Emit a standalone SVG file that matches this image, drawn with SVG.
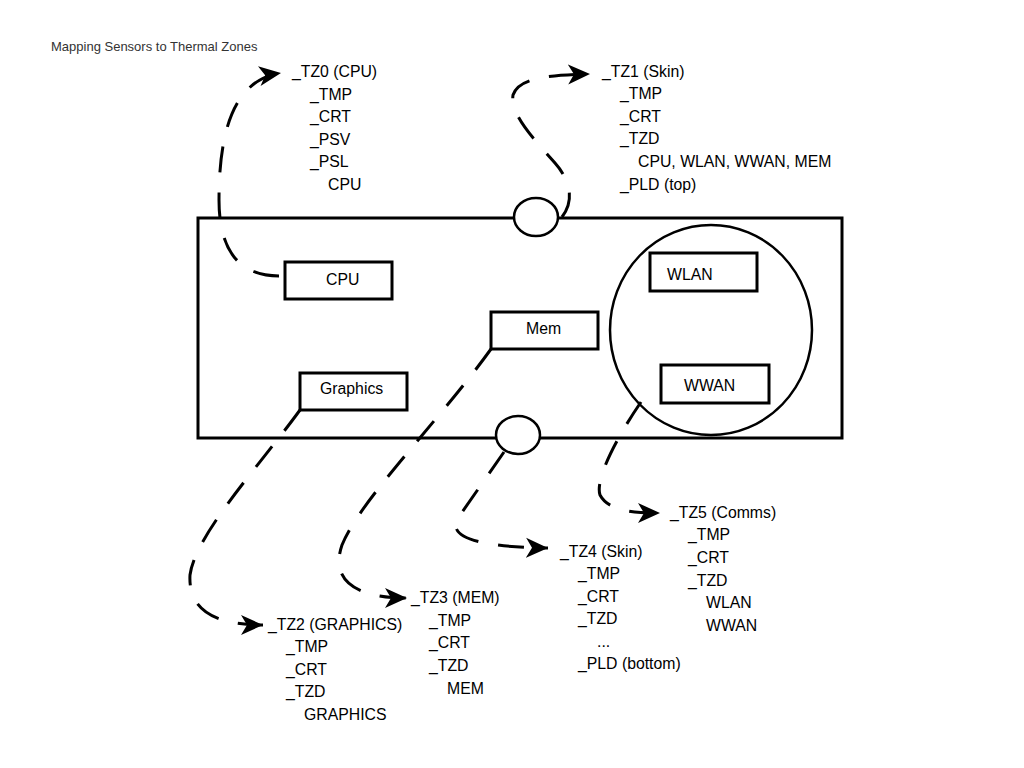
<svg xmlns="http://www.w3.org/2000/svg" width="1024" height="768" viewBox="0 0 1024 768">
<style>
text{font-family:"Liberation Sans",Arial,sans-serif;font-size:15.8px;fill:#000}
.title{font-size:13px;fill:#333}
.box{fill:#fff;stroke:#000;stroke-width:3}
.ring{fill:#fff;stroke:#000;stroke-width:2.5}
.conn{fill:none;stroke:#000;stroke-width:3;stroke-dasharray:26 20;marker-end:url(#arr)}
</style>
<defs>
<marker id="arr" markerUnits="userSpaceOnUse" markerWidth="24" markerHeight="22" refX="22" refY="10" orient="auto" viewBox="0 0 24 20">
<path d="M0,0 L22,10 L0,20 L6,10 z" fill="#000"/>
</marker>
</defs>
<rect width="1024" height="768" fill="#fff"/>
<text class="title" x="51" y="51">Mapping Sensors to Thermal Zones</text>
<g id="board">
<rect x="198" y="218" width="644" height="220" fill="none" stroke="#000" stroke-width="3"/>
</g>
<g id="comms-zone"><ellipse cx="711" cy="330" rx="101" ry="105" fill="none" stroke="#000" stroke-width="2.5"/></g>
<g id="top-sensor"><ellipse class="ring" cx="536" cy="217" rx="22" ry="19"/></g>
<g id="bottom-sensor"><ellipse class="ring" cx="518" cy="435" rx="22" ry="19"/></g>
<g id="cpu"><rect class="box" x="285" y="262" width="107" height="37"/><text x="326" y="285">CPU</text></g>
<g id="mem"><rect class="box" x="491" y="312" width="107" height="37"/><text x="526" y="334">Mem</text></g>
<g id="graphics"><rect class="box" x="300" y="373" width="107" height="37"/><text x="320" y="394">Graphics</text></g>
<g id="wlan"><rect class="box" x="650" y="253" width="107" height="38"/><text x="667" y="280">WLAN</text></g>
<g id="wwan"><rect class="box" x="661" y="365" width="108" height="38"/><text x="684" y="391">WWAN</text></g>
<g id="connectors">
<path class="conn" d="M279,276 C235,276 219,245 219,200 C219,140 230,80 281,73"/>
<path class="conn" d="M562,217 C575,200 570,180 555,163 C535,140 510,115 513,95 C518,80 540,75 590,74"/>
<path class="conn" d="M300,410 C260,465 195,535 190,575 C188,610 215,625 263,625"/>
<path class="conn" d="M491,349 C440,420 360,500 342,545 C330,580 355,598 407,598"/>
<path class="conn" d="M504,452 L458,518 C448,535 470,547 548,548"/>
<path class="conn" d="M641,402 C615,440 595,480 600,495 C608,510 630,513 660,513"/>
</g>
<g id="tz0">
<text x="292" y="77">_TZ0 (CPU)</text>
<text x="310" y="100">_TMP</text>
<text x="310" y="122">_CRT</text>
<text x="310" y="145">_PSV</text>
<text x="310" y="167">_PSL</text>
<text x="328" y="190">CPU</text>
</g>
<g id="tz1">
<text x="602" y="77">_TZ1 (Skin)</text>
<text x="620" y="99">_TMP</text>
<text x="620" y="122">_CRT</text>
<text x="620" y="144">_TZD</text>
<text x="638" y="167">CPU, WLAN, WWAN, MEM</text>
<text x="620" y="190">_PLD (top)</text>
</g>
<g id="tz2">
<text x="268" y="630">_TZ2 (GRAPHICS)</text>
<text x="286" y="652">_TMP</text>
<text x="286" y="675">_CRT</text>
<text x="286" y="697">_TZD</text>
<text x="304" y="720">GRAPHICS</text>
</g>
<g id="tz3">
<text x="411" y="603">_TZ3 (MEM)</text>
<text x="429" y="626">_TMP</text>
<text x="429" y="648">_CRT</text>
<text x="429" y="671">_TZD</text>
<text x="447" y="694">MEM</text>
</g>
<g id="tz4">
<text x="560" y="557">_TZ4 (Skin)</text>
<text x="578" y="579">_TMP</text>
<text x="578" y="602">_CRT</text>
<text x="578" y="624">_TZD</text>
<text x="597" y="647">...</text>
<text x="578" y="669">_PLD (bottom)</text>
</g>
<g id="tz5">
<text x="670" y="518">_TZ5 (Comms)</text>
<text x="688" y="540">_TMP</text>
<text x="688" y="563">_CRT</text>
<text x="688" y="586">_TZD</text>
<text x="706" y="608">WLAN</text>
<text x="706" y="631">WWAN</text>
</g>
</svg>
